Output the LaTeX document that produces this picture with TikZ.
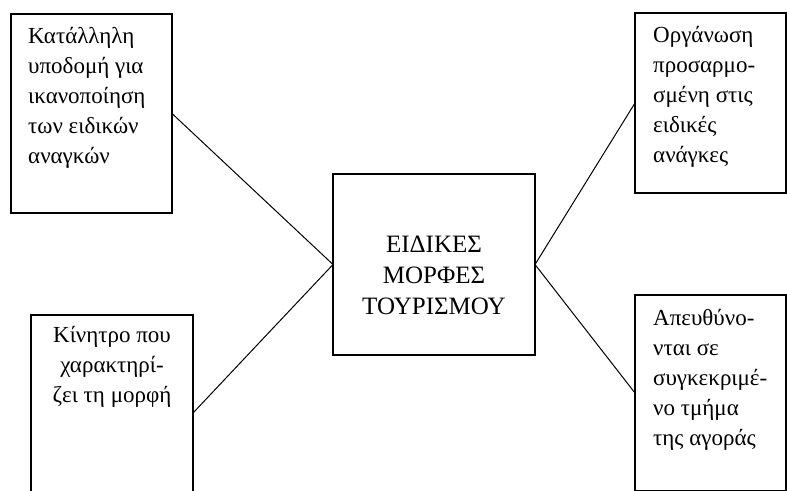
\documentclass[tikz,border=0pt]{standalone}
\usepackage{fontspec}
\setmainfont{Liberation Serif}
\usepackage{tikz}

\tikzset{
  cell/.style={draw, line width=1.6pt, anchor=north west, inner sep=0pt, outer sep=0pt},
  txt/.style={inner sep=0pt, align=left, font=\fontsize{23}{30}\selectfont},
  link/.style={line width=1pt}
}

\begin{document}
\begin{tikzpicture}[x=1pt,y=-1pt]
    \useasboundingbox (0,0) rectangle (787,490);
    \clip (0,0) rectangle (787,490);
    % boxes
    \node[cell, minimum width=161pt, minimum height=199pt] (tl) at (11,14) {};
    \node[cell, minimum width=151pt, minimum height=180pt] (tr) at (635,13) {};
    \node[cell, minimum width=162pt, minimum height=196pt] (bl) at (31,315) {};
    \node[cell, minimum width=151pt, minimum height=196pt] (br) at (635,295) {};
    \node[cell, minimum width=202pt, minimum height=181pt] (c) at (333,174) {};
    % texts
    \node[txt, anchor=north west] (tltext) at ([xshift=17pt, yshift=-13pt]tl.north west)
      {Κατάλληλη\\υποδομή για\\ικανοποίηση\\των ειδικών\\αναγκών};
    \node[txt, anchor=north west] (trtext) at ([xshift=18pt, yshift=-13pt]tr.north west)
      {Οργάνωση\\προσαρμο-\\σμένη στις\\ειδικές\\ανάγκες};
    \node[txt, align=center, anchor=north] (bltext) at ([yshift=-11pt]bl.north)
      {Κίνητρο που\\χαρακτηρί-\\ζει τη μορφή};
    \node[txt, anchor=north west] (brtext) at ([xshift=18pt, yshift=-14pt]br.north west)
      {Απευθύνο-\\νται σε\\συγκεκριμέ-\\νο τμήμα\\της αγοράς};
    \node[txt, align=center, font=\fontsize{25}{31}\selectfont] (ctext) at ([yshift=-11pt]c.center)
      {ΕΙΔΙΚΕΣ\\ΜΟΡΦΕΣ\\ΤΟΥΡΙΣΜΟΥ};
    % connectors
    \draw[link] (tl.east) -- (c.west);
    \draw[link] (bl.east) -- (c.west);
    \draw[link] (tr.west) -- (c.east);
    \draw[link] (br.west) -- (c.east);
\end{tikzpicture}
\end{document}
